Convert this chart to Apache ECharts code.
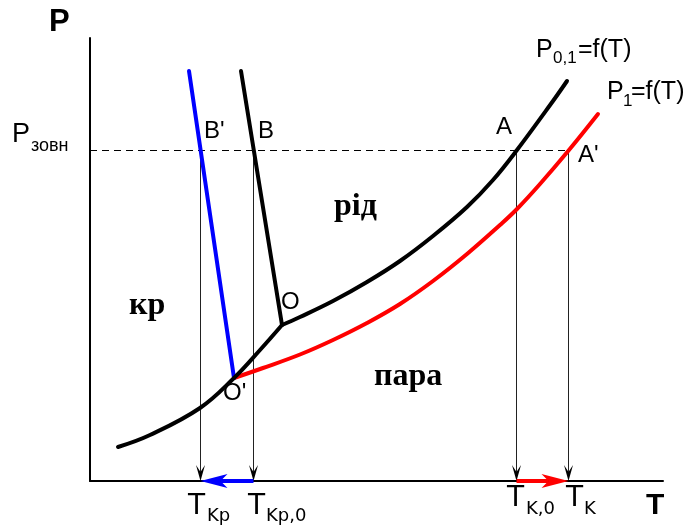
<!DOCTYPE html>
<html>
<head>
<meta charset="utf-8">
<script src="https://cdn.jsdelivr.net/npm/echarts@6/dist/echarts.min.js"></script>
<style>
  html, body { margin: 0; padding: 0; background: #fff; }
  #chart { width: 696px; height: 529px; }
</style>
</head>
<body>
<div id="chart"></div>
<script>
// Phase diagram P(T): values in arbitrary T / P units
const pExt = 330.5;          // P_зовн
const tKp = 110.5;           // T_Kp
const tKp0 = 163.5;          // T_Kp,0
const tK0 = 426.5;           // T_K,0
const tK = 478.5;            // T_K

// sublimation curve up to the triple point O
const sublimation = [[28, 34], [60, 46], [110, 73], [144, 103], [170, 131], [192, 156]];
// boiling curve P0,1 = f(T)
const boiling = [[192, 156], [210, 164], [243, 180], [277, 199], [310, 220], [343, 245],
                 [377, 274], [403, 301], [427, 331], [463, 380], [477, 400]];
// shifted boiling curve P1 = f(T), starting at O'
const boilingShifted = [[144, 103], [173, 113], [210, 126.5], [243, 141], [277, 158], [310, 177],
                        [343, 200], [377, 227], [410, 256], [427, 272], [450, 297], [479, 331], [508, 367]];
// melting curves
const melting = [[151, 410], [192, 156]];
const meltingShifted = [[99, 410], [144, 103]];

// drop lines from the intersection points to the T axis
const dropLines = [[tKp, pExt], [tKp0, pExt], [tK0, pExt], [tK, pExt]];
// temperature shifts along the axis: [from, to, colour]
const shifts = [[tKp0, tKp, '#0000ff'], [tK0, tK, '#ff0000']];

const chart = echarts.init(document.getElementById('chart'), null, { renderer: 'canvas' });

const SANS = '"Liberation Sans", Arial, sans-serif';
const SERIF = '"Liberation Serif", "Times New Roman", serif';
const TFONT = '"DejaVu Sans", sans-serif';

function txt(text, x, y, size, family, weight) {
  return {
    type: 'text', x: x, y: y, z: 100,
    style: {
      text: text, fontSize: size, fontFamily: family, fontWeight: weight || 'normal',
      fill: '#000', textAlign: 'left', textVerticalAlign: 'middle'
    }
  };
}

const labels = [
  txt('P', 49, 22, 31, SANS, 'bold'),
  txt('T', 646, 506, 30, SANS, 'bold'),
  txt('P', 12, 135, 27, SANS),
  txt('зовн', 31, 146, 18, SANS),
  txt("B'", 204, 131, 24, SANS),
  txt('B', 258, 131, 24, SANS),
  txt('A', 496, 127, 24, SANS),
  txt("A'", 578, 155, 24, SANS),
  txt('O', 281, 302, 24, SANS),
  txt("O'", 223, 393, 24, SANS),
  txt('рід', 334, 207, 32, SERIF, 'bold'),
  txt('кр', 129, 306, 32, SERIF, 'bold'),
  txt('пара', 374, 377, 32, SERIF, 'bold'),
  txt('P', 536, 50, 25, SANS),
  txt('0,1', 553, 58, 17, SANS),
  txt('=f(T)', 578, 50, 25, SANS),
  txt('P', 607, 92, 25, SANS),
  txt('1', 623, 101, 17, SANS),
  txt('=f(T)', 631, 92, 25, SANS),
  txt('T', 188, 507, 28, TFONT),
  txt('Kp', 207, 516, 18, TFONT),
  txt('T', 248, 507, 28, TFONT),
  txt('Kp,0', 266, 516, 18, TFONT),
  txt('T', 507, 499, 28, TFONT),
  txt('K,0', 526, 509, 18, TFONT),
  txt('T', 566, 499, 28, TFONT),
  txt('K', 584, 509, 18, TFONT)
];

function curve(data, color, smooth) {
  return {
    type: 'line', data: data, smooth: smooth, symbol: 'none', z: 5,
    lineStyle: { color: color, width: 4, cap: 'round', join: 'round' },
    silent: true, animation: false
  };
}

const option = {
  animation: false,
  grid: { left: 90, right: 33, top: 38, bottom: 48 },
  xAxis: {
    type: 'value', min: 0, max: 573,
    axisLine: { show: true, onZero: false, lineStyle: { color: '#000', width: 2 } },
    axisTick: { show: false }, axisLabel: { show: false }, splitLine: { show: false }
  },
  yAxis: {
    type: 'value', min: 0, max: 443,
    axisLine: { show: true, onZero: false, lineStyle: { color: '#000', width: 2 } },
    axisTick: { show: false }, axisLabel: { show: false }, splitLine: { show: false }
  },
  series: [
    {
      // dashed level of the external pressure
      type: 'line', data: [[0, pExt], [tK, pExt]], symbol: 'none', z: 2,
      lineStyle: { color: '#000', width: 1, type: [7, 5] }, silent: true
    },
    {
      // vertical drop lines with arrowheads
      type: 'custom', z: 3, silent: true,
      data: dropLines,
      renderItem: function (params, api) {
        const top = api.coord([api.value(0), api.value(1)]);
        const bot = api.coord([api.value(0), 0]);
        const x = top[0], yb = bot[1];
        return {
          type: 'group',
          children: [
            { type: 'line', shape: { x1: x, y1: top[1], x2: x, y2: yb - 6 },
              style: { stroke: '#222', lineWidth: 1 } },
            { type: 'polygon',
              shape: { points: [[x, yb], [x - 4.5, yb - 16], [x, yb - 9], [x + 4.5, yb - 16]] },
              style: { fill: '#000' } }
          ]
        };
      }
    },
    {
      // temperature shift arrows along the T axis
      type: 'custom', z: 4, silent: true,
      data: shifts,
      renderItem: function (params, api) {
        const p0 = api.coord([api.value(0), 0]);
        const p1 = api.coord([api.value(1), 0]);
        const color = shifts[params.dataIndex][2];
        const dir = p1[0] > p0[0] ? 1 : -1;
        const y = p0[1];
        const tip = p1[0];
        const back = tip - dir * 27;
        const notch = tip - dir * 20;
        return {
          type: 'group',
          children: [
            { type: 'line', shape: { x1: p0[0], y1: y, x2: notch, y2: y },
              style: { stroke: color, lineWidth: 4 } },
            { type: 'polygon',
              shape: { points: [[tip, y], [back, y - 7], [notch, y], [back, y + 7]] },
              style: { fill: color } }
          ]
        };
      }
    },
    curve(boilingShifted, '#ff0000', 0.4),
    curve(meltingShifted, '#0000ff', false),
    curve(sublimation, '#000', 0.4),
    curve(boiling, '#000', 0.4),
    curve(melting, '#000', false)
  ],
  graphic: labels
};

chart.setOption(option);
</script>
</body>
</html>
